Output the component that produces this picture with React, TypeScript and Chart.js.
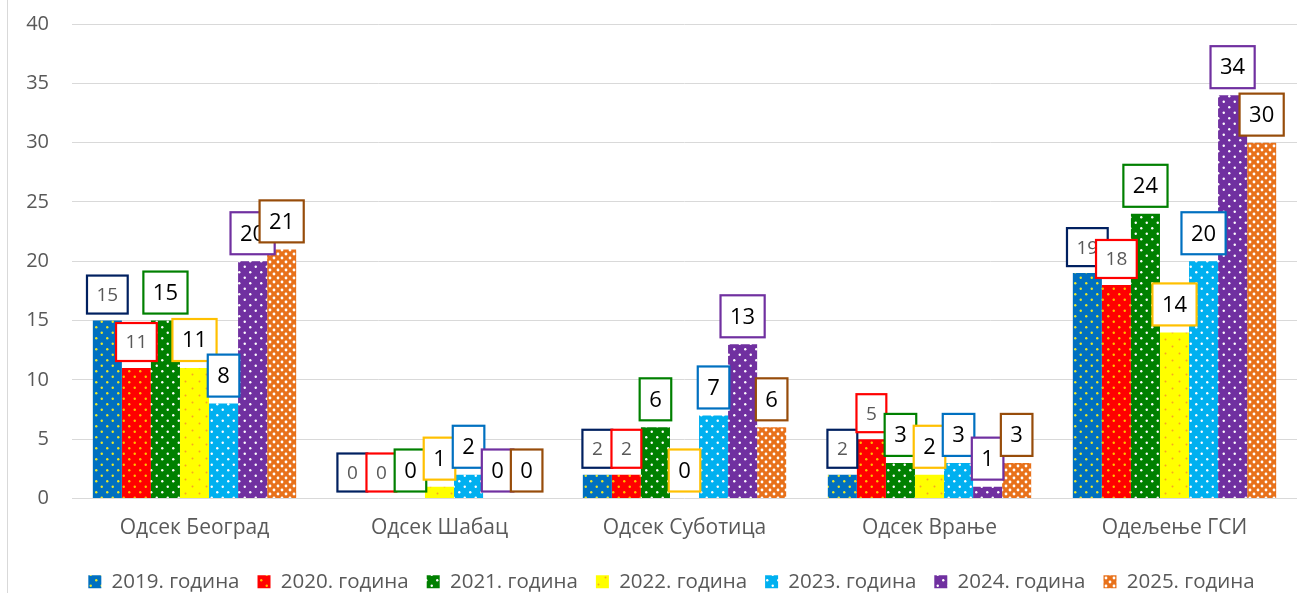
import React, { useEffect, useRef } from "react";
import { Chart, registerables } from "chart.js";

Chart.register(...registerables);

const categories = ["Одсек Београд", "Одсек Шабац", "Одсек Суботица", "Одсек Врање", "Одељење ГСИ"];
const seriesLabels = ["2019. година", "2020. година", "2021. година", "2022. година", "2023. година", "2024. година", "2025. година"];
const v2019 = [15, 0, 2, 2, 19];
const v2020 = [11, 0, 2, 5, 18];
const v2021 = [15, 0, 6, 3, 24];
const v2022 = [11, 1, 0, 2, 14];
const v2023 = [8, 2, 7, 3, 20];
const v2024 = [20, 0, 13, 1, 34];
const v2025 = [21, 0, 6, 3, 30];
const seriesValues = [v2019, v2020, v2021, v2022, v2023, v2024, v2025];
const yTicks = [0, 5, 10, 15, 20, 25, 30, 35, 40];

const barColors = ["#0070C0", "#FF0000", "#008000", "#FFFF00", "#00B0F0", "#7030A0", "#E8711A"];
const dotColors = ["#E8E82A", "#FFC000", "#FFFFFF", "#F5A623", "#FFFFFF", "#FFFFFF", "#FFFFFF"];
const borderColors = ["#002060", "#FF0000", "#008000", "#FFC000", "#0070C0", "#7030A0", "#974C0A"];
const labelTextColors = ["#595959", "#595959", "#000000", "#000000", "#000000", "#000000", "#000000"];

const FONT = "'Open Sans', 'Noto Sans', sans-serif";
const W = 1298;
const H = 602;

function makePattern(ctx: CanvasRenderingContext2D, bg: string, dot: string, size: number, r: number) {
  const c = document.createElement("canvas");
  c.width = size;
  c.height = size;
  const g = c.getContext("2d")!;
  g.fillStyle = bg;
  g.fillRect(0, 0, size, size);
  g.fillStyle = dot;
  const pts = [
    [size / 4, size / 4],
    [(3 * size) / 4, (3 * size) / 4],
  ];
  for (const [x, y] of pts) {
    g.beginPath();
    g.arc(x, y, r, 0, Math.PI * 2);
    g.fill();
  }
  return ctx.createPattern(c, "repeat")!;
}

const labelPlugin = {
  id: "boxLabels",
  afterLayout(chart: any) {
    const lg = chart.legend;
    if (lg) {
      lg.left += 23;
      lg.right += 23;
    }
  },
  afterDatasetsDraw(chart: any) {
    const ctx: CanvasRenderingContext2D = chart.ctx;
    chart.data.datasets.forEach((ds: any, i: number) => {
      const meta = chart.getDatasetMeta(i);
      const gray = i < 2;
      const fs = gray ? 19 : 22;
      const h = gray ? 38 : 42;
      ctx.save();
      ctx.font = `${fs}px ${FONT}`;
      ctx.textAlign = "center";
      ctx.textBaseline = "middle";
      meta.data.forEach((el: any, j: number) => {
        const txt = String(ds.data[j]);
        const tw = ctx.measureText(txt).width;
        const w = tw + 19;
        const bottom = el.y - 7;
        const top = bottom - h;
        const left = el.x - w / 2;
        ctx.fillStyle = "#FFFFFF";
        ctx.fillRect(left, top, w, h);
        ctx.strokeStyle = borderColors[i];
        ctx.lineWidth = 2.2;
        ctx.strokeRect(left, top, w, h);
        ctx.fillStyle = labelTextColors[i];
        ctx.fillText(txt, el.x, top + h / 2 + 1);
      });
      ctx.restore();
    });
  },
};

export default function App() {
  const ref = useRef<HTMLCanvasElement | null>(null);
  useEffect(() => {
    const canvas = ref.current!;
    const ctx = canvas.getContext("2d")!;
    const patterns = barColors.map((c, i) =>
      i === 6 ? makePattern(ctx, c, dotColors[i], 8, 1.4) : i === 3 ? makePattern(ctx, c, dotColors[i], 14, 1) : makePattern(ctx, c, dotColors[i], 11, 1.2)
    );
    const chart = new Chart(ctx, {
      type: "bar",
      data: {
        labels: categories,
        datasets: seriesLabels.map((l, i) => ({
          label: l,
          data: seriesValues[i],
          backgroundColor: patterns[i],
          borderWidth: 0,
          barPercentage: 1,
          categoryPercentage: 0.83,
        })),
      },
      options: {
        responsive: false,
        animation: false,
        layout: { padding: { top: 24, right: 1, left: 0, bottom: 0 } },
        plugins: {
          tooltip: { enabled: false },
          legend: {
            position: "bottom",
            labels: {
              boxWidth: 13,
              boxHeight: 13,
              padding: 18,
              color: "#595959",
              font: { family: FONT, size: 20.5 },
            },
          },
        },
        scales: {
          x: {
            grid: { display: false, drawTicks: false },
            border: { display: false },
            ticks: { color: "#595959", font: { family: FONT, size: 21 }, padding: 17, maxRotation: 0 },
            afterFit: (s: any) => {
              s.height = 55;
              s.paddingLeft = 0;
              s.paddingRight = 0;
            },
          },
          y: {
            min: 0,
            max: 40,
            afterBuildTicks: (s: any) => {
              s.ticks = yTicks.map((v) => ({ value: v }));
            },
            grid: { color: "#D9D9D9", drawTicks: false, lineWidth: 1 },
            border: { display: false },
            ticks: { color: "#595959", font: { family: FONT, size: 20 }, padding: 23 },
            afterFit: (s: any) => {
              s.width = 72;
              s.paddingTop = 0;
              s.paddingBottom = 0;
            },
          },
        },
      },
      plugins: [labelPlugin],
    });
    return () => chart.destroy();
  }, []);
  return (
    <div style={{ position: "fixed", left: 0, top: 0, width: W, height: H, background: "#fff" }}>
      <canvas ref={ref} width={W} height={H} style={{ width: W, height: H, display: "block" }} />
      <div style={{ position: "absolute", left: 7, top: 0, width: 1, height: H, background: "#D9D9D9" }} />
    </div>
  );
}
